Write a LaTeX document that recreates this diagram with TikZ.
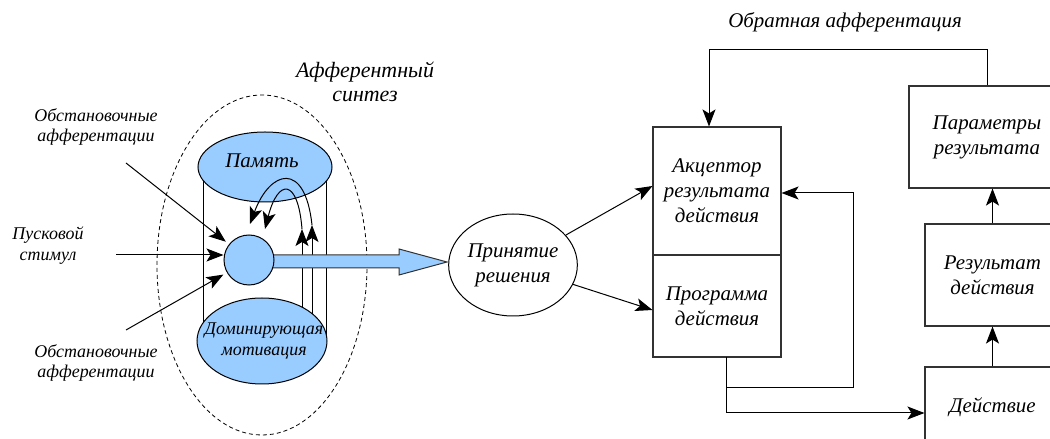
\documentclass[tikz,border=0pt]{standalone}
\usepackage{fontspec}
\setmainfont{Liberation Serif}
\usetikzlibrary{arrows.meta,shapes.geometric}
\definecolor{lblue}{RGB}{153,204,255}
\definecolor{edgegray}{RGB}{50,50,50}
\begin{document}
\begin{tikzpicture}[x=1bp,y=-1bp,
  every node/.style={align=center,inner sep=0pt},
  lblS/.style={font=\itshape\fontsize{18}{21}\selectfont},
  lblM/.style={font=\itshape\fontsize{21}{25}\selectfont},
  lblL/.style={font=\itshape\fontsize{22}{24}\selectfont},
  tip/.style={-{Stealth[length=17bp,width=13bp,inset=4bp]}},
  conn/.style={draw=black,line width=1bp},
  box/.style={draw=edgegray,line width=1.1bp,rectangle,lblM},
  blob/.style={ellipse,draw=black,fill=lblue,line width=1bp},
]
\useasboundingbox (0,0) rectangle (1050,439);
\clip (0,0) rectangle (1050,439);

% afferent synthesis area
\draw[line width=0.8bp,dash pattern=on 4bp off 3bp] (262,265) ellipse [x radius=105bp,y radius=170bp];
\draw[conn] (203,167) -- (203,341);
\draw[conn] (326,167) -- (326,341);
\coordinate (upA) at (302,320);
\coordinate (upB) at (312,320);
\coordinate (upAt) at (302,229);
\coordinate (upBt) at (312,225);
\draw[conn,tip] (upA) -- (upAt);
\draw[conn,tip] (upB) -- (upBt);

% thick arrow
\draw[draw=edgegray,fill=lblue,line width=1bp] (272,255) -- (399,255) -- (399,249) -- (447,262) -- (399,275) -- (399,268) -- (272,268) -- cycle;

\node[blob,minimum width=134bp,minimum height=70bp] (mem) at (265,167) {};
\node[lblM] (memT) at (262,161) {Память};
\node[blob,minimum width=130bp,minimum height=86bp] (mot) at (262,341) {};
\node[lblS] (motT) at (264,341) {Доминирующая\\мотивация};
\node[circle,draw=black,fill=lblue,line width=1bp,minimum size=50bp] (core) at (249,260) {};

\coordinate (dnA) at (250,224);
\coordinate (dnB) at (265,229);
\draw[conn,tip] (upBt) .. controls (305,160) and (270,170) .. (dnA);
\draw[conn,tip] (upAt) .. controls (298,178) and (278,178) .. (dnB);

% inputs
\coordinate (in1) at (126,163);
\coordinate (in2) at (116,255);
\coordinate (in3) at (126,330);
\draw[conn,tip,shorten >=4bp] (in1) -- (core);
\draw[conn,tip] (in2) -- (in2 -| core.west);
\draw[conn,tip,shorten >=4bp] (in3) -- (core);

\node[lblS] (obs1) at (96,127) {Обстановочные\\афферентации};
\node[lblS] (start) at (48,246) {Пусковой\\стимул};
\node[lblS] (obs2) at (96,363) {Обстановочные\\афферентации};
\node[lblL] (synthT) at (365,82) {Афферентный\\синтез};

% right part
\node[ellipse,draw=black,line width=1bp,minimum width=128bp,minimum height=102bp,lblM] (dec) at (513,265) {Принятие\\решения};
\node[box,minimum width=128bp,minimum height=128bp] (acc) at (717,191) {Акцептор\\результата\\действия};
\node[box,minimum width=128bp,minimum height=102bp] (prog) at (717,306) {Программа\\действия};
\node[box,minimum width=156bp,minimum height=102bp] (param) at (987,137) {Параметры\\результата};
\node[box,minimum width=135bp,minimum height=102bp] (res) at (992.5,275) {Результат\\действия};
\node[box,minimum width=135bp,minimum height=80bp] (act) at (992.5,407) {Действие};
\node[lblM] (fbT) at (845,22) {Обратная афферентация};

\draw[conn,tip] (dec) -- ([yshift=5bp]acc.west);
\draw[conn,tip] (dec) -- ([yshift=-4bp]prog.west);

\coordinate (fbR) at (987,50);
\coordinate (fbL) at (709,50);
\draw[conn,tip] (param.north) -- (fbR) -- (fbL) -- (fbL |- acc.north);

\coordinate (pOut) at (726,357);
\coordinate (split) at (726,388);
\coordinate (loopR) at (853,388);
\draw[conn,tip] (pOut) |- ([yshift=-6bp]act.west);
\draw[conn,tip] (split) -- (loopR) |- ([yshift=-2bp]acc.east);
\draw[conn,tip] (act.north) -- (res.south);
\draw[conn,tip] (res.north) -- (res.north |- param.south);
\end{tikzpicture}
\end{document}
